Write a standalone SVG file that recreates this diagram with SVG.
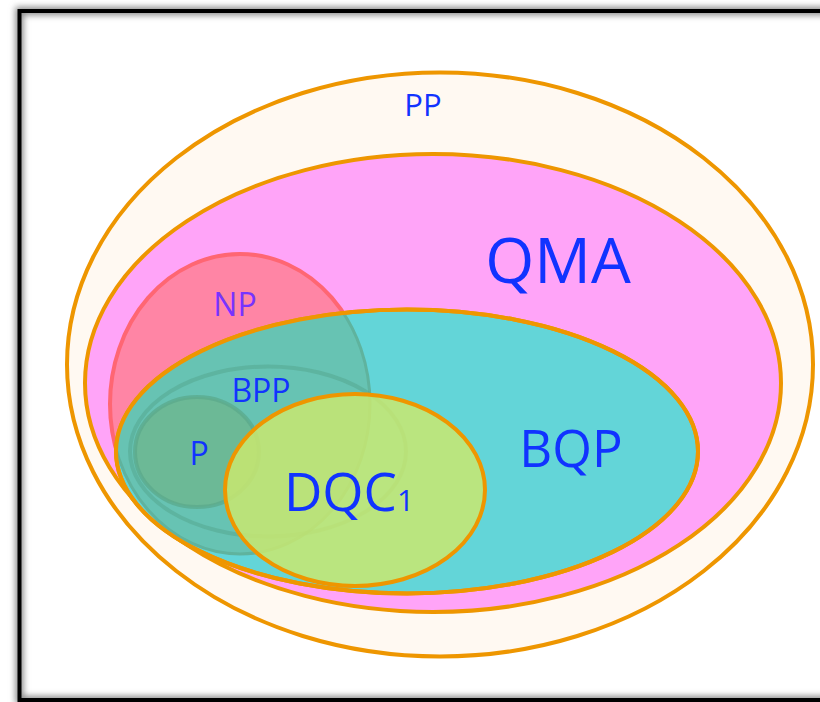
<svg xmlns="http://www.w3.org/2000/svg" width="820" height="702" viewBox="0 0 820 702">
  <defs>
    <filter id="shadow" x="-5%" y="-5%" width="110%" height="110%">
      <feGaussianBlur stdDeviation="3"/>
    </filter>
    <clipPath id="bqpClip">
      <ellipse cx="407" cy="451.5" rx="290" ry="141"/>
    </clipPath>
    <style>
      .set { stroke: #EE9600; stroke-width: 4; }
      .lbl { font-family: "Open Sans", "Noto Sans", sans-serif; fill: #1133FF; text-anchor: middle; }
    </style>
  </defs>
  <rect x="0" y="0" width="820" height="702" fill="#FFFFFF"/>
  <g id="frame">
    <rect x="19.5" y="11" width="830" height="689" fill="none" stroke="#888888" stroke-width="8" filter="url(#shadow)"/>
    <rect x="19.5" y="11" width="830" height="689" fill="none" stroke="#000000" stroke-width="4"/>
  </g>
  <g id="PP">
    <ellipse class="set" cx="440" cy="364.5" rx="373" ry="292" fill="#FFF9F2"/>
    <text class="lbl" x="423" y="116" font-size="31">PP</text>
  </g>
  <g id="QMA">
    <ellipse class="set" cx="433" cy="383" rx="348" ry="229" fill="#FFA4F8"/>
    <text class="lbl" x="558" y="283" font-size="63">QMA</text>
  </g>
  <g id="NP">
    <ellipse cx="240" cy="404" rx="130" ry="150" fill="#FF85A5" stroke="#FF6673" stroke-width="4"/>
    <text class="lbl" x="235" y="316" font-size="32" style="fill:#7733FF">NP</text>
  </g>
  <g id="BQP">
    <ellipse class="set" cx="407" cy="451.5" rx="291" ry="142" fill="#63D5D8"/>
    <ellipse cx="240" cy="404" rx="130" ry="150" fill="#67C3B3" stroke="#5FB39E" stroke-width="3" clip-path="url(#bqpClip)"/>
    <ellipse cx="407" cy="451.5" rx="291" ry="142" fill="none" stroke="#EE9600" stroke-width="4"/>
    <text class="lbl" x="571" y="467" font-size="51">BQP</text>
  </g>
  <g id="BPP">
    <ellipse cx="268" cy="451.5" rx="138" ry="85" fill="none" stroke="#55A890" stroke-opacity="0.55" stroke-width="4"/>
    <text class="lbl" x="261" y="402" font-size="32">BPP</text>
  </g>
  <g id="P">
    <ellipse cx="197" cy="452" rx="62" ry="55" fill="#6EB58C" fill-opacity="0.75" stroke="#5AA88A" stroke-opacity="0.7" stroke-width="4"/>
    <text class="lbl" x="199" y="465" font-size="32">P</text>
  </g>
  <g id="DQC1">
    <ellipse cx="355" cy="490" rx="130" ry="96" fill="#C9E870" fill-opacity="0.85" stroke="#EE9600" stroke-width="4"/>
    <text class="lbl" x="349" y="511" font-size="53">DQC<tspan font-size="30">1</tspan></text>
  </g>
</svg>
